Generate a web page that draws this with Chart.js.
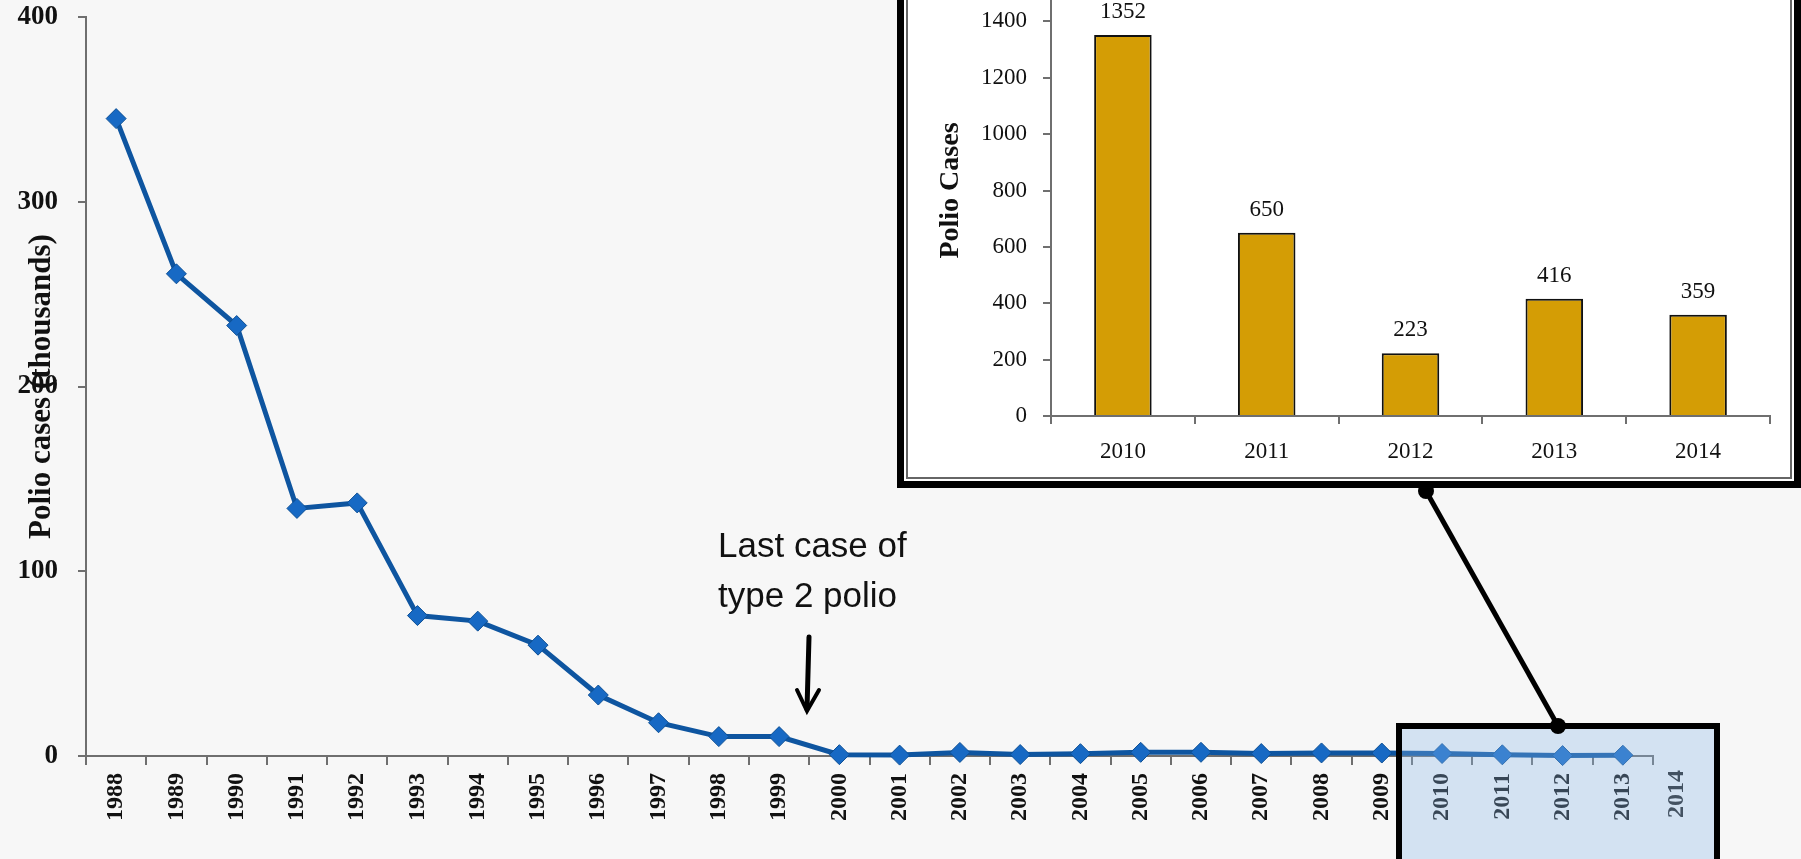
<!DOCTYPE html>
<html>
<head>
<meta charset="utf-8">
<title>Polio cases 1988-2014</title>
<script src="https://cdn.jsdelivr.net/npm/chart.js@4.4.1/dist/chart.umd.min.js"></script>
<style>
  html, body { margin: 0; padding: 0; overflow: hidden; }
  body { width: 1801px; height: 859px; background: #f7f7f7; position: relative; }
  #main { position: absolute; left: 0; top: 0; }
  /* inset frame: thick outer line, thin inner line */
  #inset-frame { position: absolute; left: 897px; top: -100px; width: 886px; height: 570px;
    padding: 2px; border: 7px solid #000; background: #fff; }
  #inset-inner { width: 882px; height: 566px; border: 2px solid #666; }
</style>
</head>
<body>
<canvas id="main" width="1801" height="859"></canvas>
<div id="inset-frame"><div id="inset-inner"><canvas id="inset" width="882" height="566"></canvas></div></div>

<script>
// main line chart: polio cases in thousands
const years = ['1988', '1989', '1990', '1991', '1992', '1993', '1994', '1995', '1996', '1997',
  '1998', '1999', '2000', '2001', '2002', '2003', '2004', '2005', '2006', '2007',
  '2008', '2009', '2010', '2011', '2012', '2013', '2014'];
const cases = [345, 261, 233, 134, 137, 76, 73, 60, 33, 18,
  10.5, 10.5, 0.72, 0.48, 1.92, 0.78, 1.26, 1.98, 2.0, 1.32,
  1.65, 1.6, 1.35, 0.65, 0.22, 0.42];
const yTicks = [0, 100, 200, 300, 400];

// inset bar chart: polio cases 2010-2014
const insetYears = ['2010', '2011', '2012', '2013', '2014'];
const insetCases = [1352, 650, 223, 416, 359];
const insetTicks = [0, 200, 400, 600, 800, 1000, 1200, 1400, 1600];

const serif = '"Liberation Serif", "Times New Roman", serif';
const axisGray = '#6f6f6f';

// keep the y axis at a fixed width and stop tick padding from pushing the plot down
function fixYAxis(width) {
  return (scale) => {
    scale.width = width;
    scale.paddingTop = 0;
    scale.paddingBottom = 0;
  };
}

// annotations on the main chart
const decorations = {
  id: 'decorations',
  afterDraw(chart) {
    const ctx = chart.ctx;
    const x = chart.scales.x;
    const last = cases.length - 1;
    const step = x.getPixelForValue(last) - x.getPixelForValue(last - 1);
    ctx.save();

    // the year label past the end of the axis
    ctx.save();
    ctx.translate(x.getPixelForValue(last) + step * 0.9, x.top + 14);
    ctx.rotate(-Math.PI / 2);
    ctx.font = 'bold 24px ' + serif;
    ctx.fillStyle = '#222';
    ctx.textAlign = 'right';
    ctx.textBaseline = 'middle';
    ctx.fillText(years[years.length - 1], 0, 0);
    ctx.restore();

    // highlight box around the last years
    ctx.fillStyle = 'rgba(137, 183, 233, 0.32)';
    ctx.fillRect(1399, 726, 318, 140);
    ctx.strokeStyle = '#000';
    ctx.lineWidth = 6;
    ctx.strokeRect(1399, 726, 318, 140);

    // connector to the inset
    ctx.lineWidth = 5;
    ctx.beginPath();
    ctx.moveTo(1426, 491);
    ctx.lineTo(1558, 726);
    ctx.stroke();
    ctx.fillStyle = '#000';
    [[1426, 491], [1558, 726]].forEach(([cx, cy]) => {
      ctx.beginPath();
      ctx.arc(cx, cy, 8, 0, Math.PI * 2);
      ctx.fill();
    });

    // arrow + note
    ctx.lineCap = 'round';
    ctx.beginPath();
    ctx.moveTo(809, 637);
    ctx.lineTo(807, 709);
    ctx.stroke();
    ctx.lineWidth = 4;
    ctx.beginPath();
    ctx.moveTo(797, 690);
    ctx.lineTo(807, 711);
    ctx.lineTo(819, 690);
    ctx.stroke();

    ctx.font = '35px "Liberation Sans", Arial, sans-serif';
    ctx.fillStyle = '#111';
    ctx.textAlign = 'left';
    ctx.textBaseline = 'alphabetic';
    ctx.fillText('Last case of', 718, 557);
    ctx.fillText('type 2 polio', 718, 607);
    ctx.restore();
  }
};

new Chart(document.getElementById('main'), {
  type: 'line',
  data: {
    labels: years,
    datasets: [{
      data: cases,
      borderColor: '#0e55a0',
      borderWidth: 5,
      tension: 0,
      pointStyle: 'rectRot',
      pointRadius: 10,
      pointBackgroundColor: '#1769c4',
      pointBorderColor: '#0d4f94',
      pointBorderWidth: 1,
      clip: false
    }]
  },
  options: {
    responsive: false,
    animation: false,
    layout: { padding: { left: 0, right: 148, top: 17, bottom: 0 } },
    plugins: { legend: { display: false }, tooltip: { enabled: false } },
    scales: {
      x: {
        max: '2013',
        offset: true,
        afterFit: (scale) => { scale.height = 103; },
        grid: { display: true, offset: true, drawOnChartArea: false, drawTicks: true,
          tickLength: 9, color: axisGray, lineWidth: 2 },
        border: { display: true, color: axisGray, width: 2 },
        ticks: { autoSkip: false, minRotation: 90, maxRotation: 90, padding: 8,
          color: '#111', font: { family: serif, size: 24, weight: 'bold' } }
      },
      y: {
        min: 0,
        max: 400,
        afterFit: fixYAxis(86),
        afterBuildTicks: (scale) => { scale.ticks = yTicks.map(v => ({ value: v })); },
        grid: { display: true, drawOnChartArea: false, drawTicks: true,
          tickLength: 8, color: axisGray, lineWidth: 2 },
        border: { display: true, color: axisGray, width: 2 },
        ticks: { padding: 20, color: '#111', font: { family: serif, size: 27, weight: 'bold' } },
        title: { display: true, text: 'Polio cases (thousands)', color: '#111',
          padding: { top: 23, bottom: 0 },
          font: { family: serif, size: 31, weight: 'bold' } }
      }
    }
  },
  plugins: [decorations]
});

// value labels above the inset bars
const barLabels = {
  id: 'barLabels',
  afterDatasetsDraw(chart) {
    const ctx = chart.ctx;
    const meta = chart.getDatasetMeta(0);
    ctx.save();
    ctx.font = '23px ' + serif;
    ctx.fillStyle = '#111';
    ctx.textAlign = 'center';
    ctx.textBaseline = 'middle';
    meta.data.forEach((bar, i) => ctx.fillText(String(insetCases[i]), bar.x, bar.y - 23));
    ctx.restore();
  }
};

new Chart(document.getElementById('inset'), {
  type: 'bar',
  data: {
    labels: insetYears,
    datasets: [{
      data: insetCases,
      backgroundColor: '#d49d05',
      borderColor: '#111',
      borderWidth: 2,
      borderSkipped: 'bottom',
      categoryPercentage: 1,
      barPercentage: 0.4
    }]
  },
  options: {
    responsive: false,
    animation: false,
    layout: { padding: { left: 0, right: 20, top: 54, bottom: 0 } },
    plugins: { legend: { display: false }, tooltip: { enabled: false } },
    scales: {
      x: {
        afterFit: (scale) => { scale.height = 61; },
        grid: { display: true, offset: true, drawOnChartArea: false, drawTicks: true,
          tickLength: 8, color: axisGray, lineWidth: 2 },
        border: { display: true, color: axisGray, width: 2 },
        ticks: { padding: 14, color: '#111', font: { family: serif, size: 23 } }
      },
      y: {
        min: 0,
        max: 1600,
        afterFit: fixYAxis(143),
        afterBuildTicks: (scale) => { scale.ticks = insetTicks.map(v => ({ value: v })); },
        grid: { display: true, drawOnChartArea: false, drawTicks: true,
          tickLength: 8, color: axisGray, lineWidth: 2 },
        border: { display: true, color: axisGray, width: 2 },
        ticks: { padding: 16, color: '#111', font: { family: serif, size: 23 },
          callback: (v) => String(v) },
        title: { display: true, text: 'Polio Cases', color: '#111',
          padding: { top: 26, bottom: 0 },
          font: { family: serif, size: 28, weight: 'bold' } }
      }
    }
  },
  plugins: [barLabels]
});
</script>
</body>
</html>
